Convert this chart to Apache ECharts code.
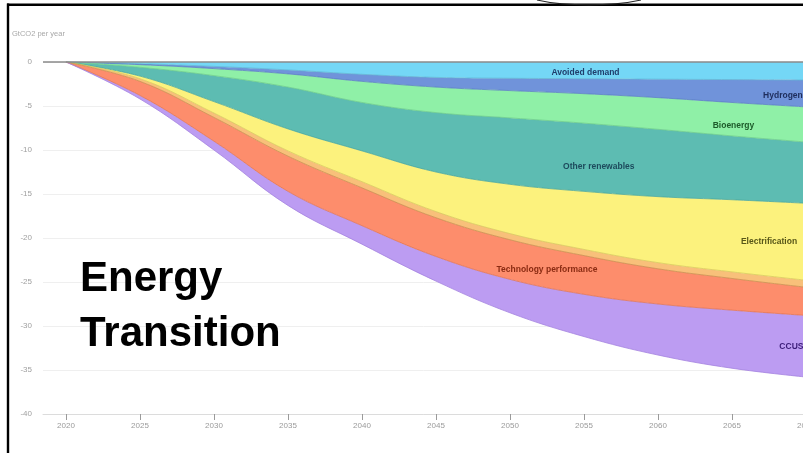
<!DOCTYPE html>
<html>
<head>
<meta charset="utf-8">
<script src="https://cdn.jsdelivr.net/npm/echarts@6/dist/echarts.min.js"></script>
<style>
html,body{margin:0;padding:0;background:#fff;}
#c{width:803px;height:453px;}
</style>
</head>
<body>
<div id="c"></div>
<script>
// ---- data (GtCO2 per year) ----
var years = [2020, 2025, 2030, 2035, 2040, 2045, 2050, 2055, 2060, 2065, 2070];
var avoidedDemand        = [0, -0.2, -0.5, -0.9, -1.4, -1.75, -1.85, -1.9, -1.95, -2.0, -2.05];
var hydrogen             = [0, -0.1, -0.25, -0.45, -0.8, -1.1, -1.4, -1.7, -2.1, -2.6, -3.05];
var bioenergy            = [0, -0.3, -0.8, -1.5, -2.4, -2.9, -3.1, -3.35, -3.6, -3.8, -4.0];
var otherRenewables      = [0, -1.0, -2.95, -4.75, -5.5, -6.75, -7.55, -7.75, -7.65, -7.25, -6.95];
var electrification      = [0, -0.3, -1.3, -2.5, -3.5, -4.5, -5.6, -6.6, -7.5, -8.2, -8.75];
var otherFuelShifts      = [0, -0.3, -0.5, -0.6, -0.7, -0.7, -0.7, -0.7, -0.7, -0.75, -0.8];
var technologyPerformance= [0, -1.6, -2.7, -4.0, -4.3, -4.4, -4.5, -4.4, -4.0, -3.6, -3.2];
var ccus                 = [0, -0.4, -1.0, -1.6, -2.1, -2.8, -3.8, -4.8, -5.8, -6.6, -7.0];

var xTickLabels = [2020, 2025, 2030, 2035, 2040, 2045, 2050, 2055, 2060, 2065, 2070];

// in-chart labels: [text, year, value, align, color]
var bandLabels = [
  ['Avoided demand', 2055.1, -1.25, 'center', '#1f3d6b'],
  ['Hydrogen', 2067.1, -3.85, 'left', '#1e2d5c'],
  ['Bioenergy', 2065.1, -7.25, 'center', '#1d5a2a'],
  ['Other renewables', 2056.0, -11.9, 'center', '#1d4a5c'],
  ['Electrification', 2067.5, -20.45, 'center', '#585718'],
  ['Technology performance', 2052.5, -23.6, 'center', '#8a2b12'],
  ['CCUS', 2068.2, -32.3, 'left', '#3b1c78']
];

var layers = [
  ['Avoided demand', avoidedDemand, '#74d7f6', '#5fb9d6'],
  ['Hydrogen', hydrogen, '#7093da', '#5b7dc4'],
  ['Bioenergy', bioenergy, '#8ff0a7', '#6fcf8a'],
  ['Other renewables', otherRenewables, '#5dbcb2', '#4aa79c'],
  ['Electrification', electrification, '#fcf27d', '#d9cc5c'],
  ['Other fuel shifts', otherFuelShifts, '#f8c07a', '#c9904c'],
  ['Technology performance', technologyPerformance, '#fd8d6c', '#e27452'],
  ['CCUS', ccus, '#bc9cf2', '#a583e0']
];

var chart = echarts.init(document.getElementById('c'), null, {renderer: 'canvas'});

var series = layers.map(function (l, idx) {
  var s = {
    name: l[0],
    type: 'line',
    stack: 'total',
    // [value, year] so the stacked dimension is the value (y)
    data: years.map(function (y, i) { return [l[1][i], y]; }),
    encode: {x: 1, y: 0},
    symbol: 'none',
    smooth: 0.4,
    lineStyle: {width: 0.8, color: l[3]},
    areaStyle: {color: l[2], opacity: 1},
    emphasis: {disabled: true},
    z: 2
  };
  if (idx === 0) {
    s.markLine = {
      silent: true, symbol: 'none', label: {show: false},
      lineStyle: {color: '#8a8a8a', width: 1.6, type: 'solid'},
      data: [{yAxis: 0}]
    };
  }
  return s;
});

chart.setOption({
  animation: false,
  backgroundColor: '#fff',
  grid: {left: 43, right: -3, top: 62, bottom: 39, containLabel: false, outerBoundsMode: 'none'},
  xAxis: {
    type: 'value',
    min: 2018.45,
    max: 2070,
    axisLine: {show: true, onZero: false, lineStyle: {color: '#dcdcdc', width: 1}},
    axisTick: {show: true, length: 6, lineStyle: {color: '#9a9a9a'}, customValues: xTickLabels},
    axisLabel: {color: '#9a9a9a', fontSize: 8, margin: 8, fontFamily: 'Liberation Sans', customValues: xTickLabels,
      formatter: function (v) { return String(v); }},
    splitLine: {show: false}
  },
  yAxis: {
    type: 'value',
    min: -40,
    max: 0,
    interval: 5,
    axisLine: {show: false},
    axisTick: {show: false},
    axisLabel: {color: '#a0a0a0', fontSize: 8, margin: 11, fontFamily: 'Liberation Sans'},
    splitLine: {show: true, lineStyle: {color: '#efefef', width: 1}}
  },
  series: series
});

var graphics = [];
bandLabels.forEach(function (b) {
  var p = chart.convertToPixel({gridIndex: 0}, [b[1], b[2]]);
  graphics.push({
    type: 'text', x: p[0], y: p[1], z: 10,
    style: {text: b[0], fill: b[4], font: 'bold 8.5px "Liberation Sans"', align: b[3], verticalAlign: 'middle'}
  });
});
graphics.push(
  {type: 'text', x: 12, y: 34, z: 10,
   style: {text: 'GtCO2 per year', fill: '#a8a8a8', font: '7.5px "Liberation Sans"', align: 'left', verticalAlign: 'middle'}},
  {type: 'text', x: 80, y: 279, z: 20,
   style: {text: 'Energy', fill: '#000', font: 'bold 42px "Liberation Sans"', align: 'left', verticalAlign: 'middle'}},
  {type: 'text', x: 80, y: 334, z: 20,
   style: {text: 'Transition', fill: '#000', font: 'bold 42px "Liberation Sans"', align: 'left', verticalAlign: 'middle'}},
  {type: 'line', z: 30, shape: {x1: 7, y1: 4.8, x2: 803, y2: 4.8}, style: {stroke: '#000', lineWidth: 2.4}},
  {type: 'line', z: 30, shape: {x1: 8, y1: 3.6, x2: 8, y2: 453}, style: {stroke: '#000', lineWidth: 2.4}},
  {type: 'bezierCurve', z: 30,
   shape: {x1: 537, y1: 0, cpx1: 565, cpy1: 6.5, cpx2: 612, cpy2: 6.5, x2: 641, y2: 0},
   style: {stroke: '#222', lineWidth: 1.1, fill: null}}
);
chart.setOption({graphic: graphics});
</script>
</body>
</html>
